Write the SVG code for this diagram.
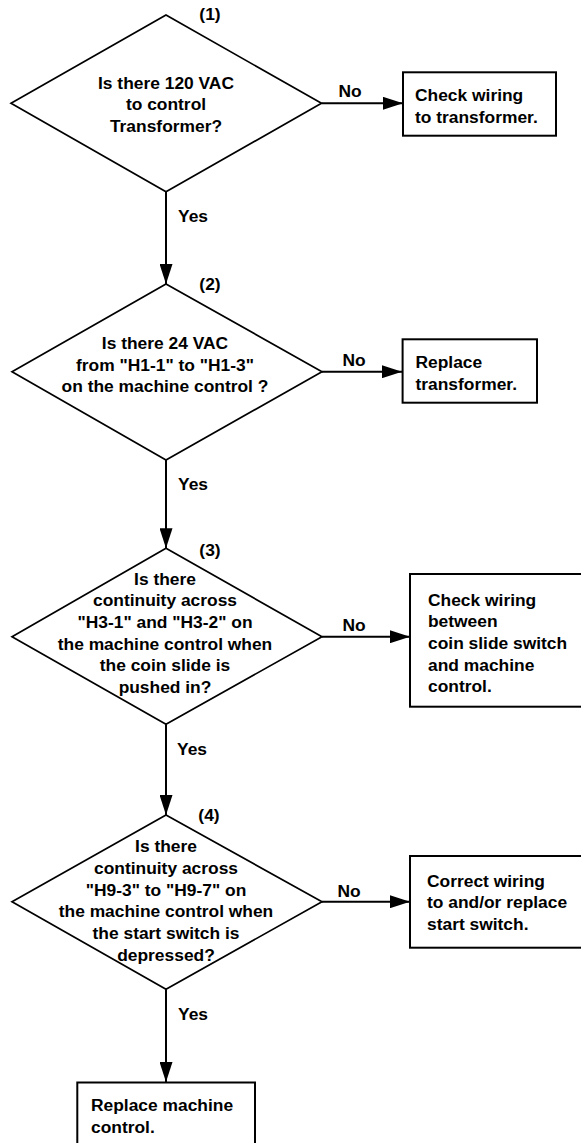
<svg xmlns="http://www.w3.org/2000/svg" width="581" height="1143" viewBox="0 0 581 1143">
<style>
text{font-family:"Liberation Sans",Arial,Helvetica,sans-serif;font-weight:bold;font-size:17.4px;fill:#000}
.c{text-anchor:middle}
.dia{fill:#fff;stroke:#000;stroke-width:1.7}
.box{fill:#fff;stroke:#000;stroke-width:2}
.ln{fill:none;stroke:#000;stroke-width:2}
</style>
<defs>
<marker id="ah" markerWidth="20" markerHeight="13" refX="20" refY="6.5" orient="auto" markerUnits="userSpaceOnUse">
<path d="M0,0 L20,6.5 L0,13 Z" fill="#000"/>
</marker>
</defs>
<rect width="581" height="1143" fill="#fff"/>
<g id="connectors">
<line class="ln" x1="166" y1="191.7" x2="166" y2="284" marker-end="url(#ah)"/>
<line class="ln" x1="321.5" y1="103.3" x2="403" y2="103.3" marker-end="url(#ah)"/>
<line class="ln" x1="166" y1="460" x2="166" y2="548.3" marker-end="url(#ah)"/>
<line class="ln" x1="322" y1="371.7" x2="402" y2="371.7" marker-end="url(#ah)"/>
<line class="ln" x1="166" y1="724.3" x2="166" y2="815" marker-end="url(#ah)"/>
<line class="ln" x1="322" y1="636.7" x2="410" y2="636.7" marker-end="url(#ah)"/>
<line class="ln" x1="166" y1="989.3" x2="166" y2="1082" marker-end="url(#ah)"/>
<line class="ln" x1="322" y1="901.7" x2="410" y2="901.7" marker-end="url(#ah)"/>
<text x="350" y="97" class="c">No</text>
<text x="354" y="365.5" class="c">No</text>
<text x="354" y="630.5" class="c">No</text>
<text x="349" y="896.5" class="c">No</text>
<text x="178" y="222">Yes</text>
<text x="178" y="489.5">Yes</text>
<text x="177" y="754.5">Yes</text>
<text x="178" y="1019.5">Yes</text>
</g>
<g id="d1">
<polygon class="dia" points="166,15 321.5,103.3 166,191.7 11,103.3"/>
<text x="210" y="20" class="c">(1)</text>
<text x="166" y="88.5" class="c">Is there 120 VAC</text>
<text x="166" y="110.2" class="c">to control</text>
<text x="166" y="131.9" class="c">Transformer?</text>
</g>
<g id="b1">
<rect class="box" x="403" y="72.3" width="153" height="63.4"/>
<text x="415" y="101.3">Check wiring</text>
<text x="415" y="122.5">to transformer.</text>
</g>
<g id="d2">
<polygon class="dia" points="166,284 322,371.7 166,460 12,371.7"/>
<text x="210" y="290" class="c">(2)</text>
<text x="165" y="349" class="c">Is there 24 VAC</text>
<text x="165" y="370.7" class="c">from "H1-1" to "H1-3"</text>
<text x="165" y="392" class="c">on the machine control ?</text>
</g>
<g id="b2">
<rect class="box" x="402.6" y="339.3" width="134.4" height="63.4"/>
<text x="415.5" y="368">Replace</text>
<text x="415.5" y="389.7">transformer.</text>
</g>
<g id="d3">
<polygon class="dia" points="166,548.3 322,636.7 166,724.3 12,636.7"/>
<text x="210" y="556" class="c">(3)</text>
<text x="165" y="584.7" class="c">Is there</text>
<text x="165" y="606.4" class="c">continuity across</text>
<text x="165" y="628" class="c">"H3-1" and "H3-2" on</text>
<text x="165" y="649.7" class="c">the machine control when</text>
<text x="165" y="671.4" class="c">the coin slide is</text>
<text x="165" y="693" class="c">pushed in?</text>
</g>
<g id="b3">
<rect class="box" x="410" y="574" width="185" height="132.7"/>
<text x="428" y="605.7">Check wiring</text>
<text x="428" y="627.4">between</text>
<text x="428" y="649">coin slide switch</text>
<text x="428" y="670.7">and machine</text>
<text x="428" y="692.4">control.</text>
</g>
<g id="d4">
<polygon class="dia" points="166,815 322,901.7 166,989.3 12,901.7"/>
<text x="209" y="821" class="c">(4)</text>
<text x="166" y="852.4" class="c">Is there</text>
<text x="166" y="874" class="c">continuity across</text>
<text x="166" y="895.7" class="c">"H9-3" to "H9-7" on</text>
<text x="166" y="917.4" class="c">the machine control when</text>
<text x="166" y="939" class="c">the start switch is</text>
<text x="166" y="960.7" class="c">depressed?</text>
</g>
<g id="b4">
<rect class="box" x="410" y="856" width="185" height="91.7"/>
<text x="427" y="886.7">Correct wiring</text>
<text x="427" y="908.4">to and/or replace</text>
<text x="427" y="929.7">start switch.</text>
</g>
<g id="b5">
<rect class="box" x="77.3" y="1082.5" width="177.7" height="80"/>
<text x="91" y="1111.3">Replace machine</text>
<text x="91" y="1132.5">control.</text>
</g>
</svg>
